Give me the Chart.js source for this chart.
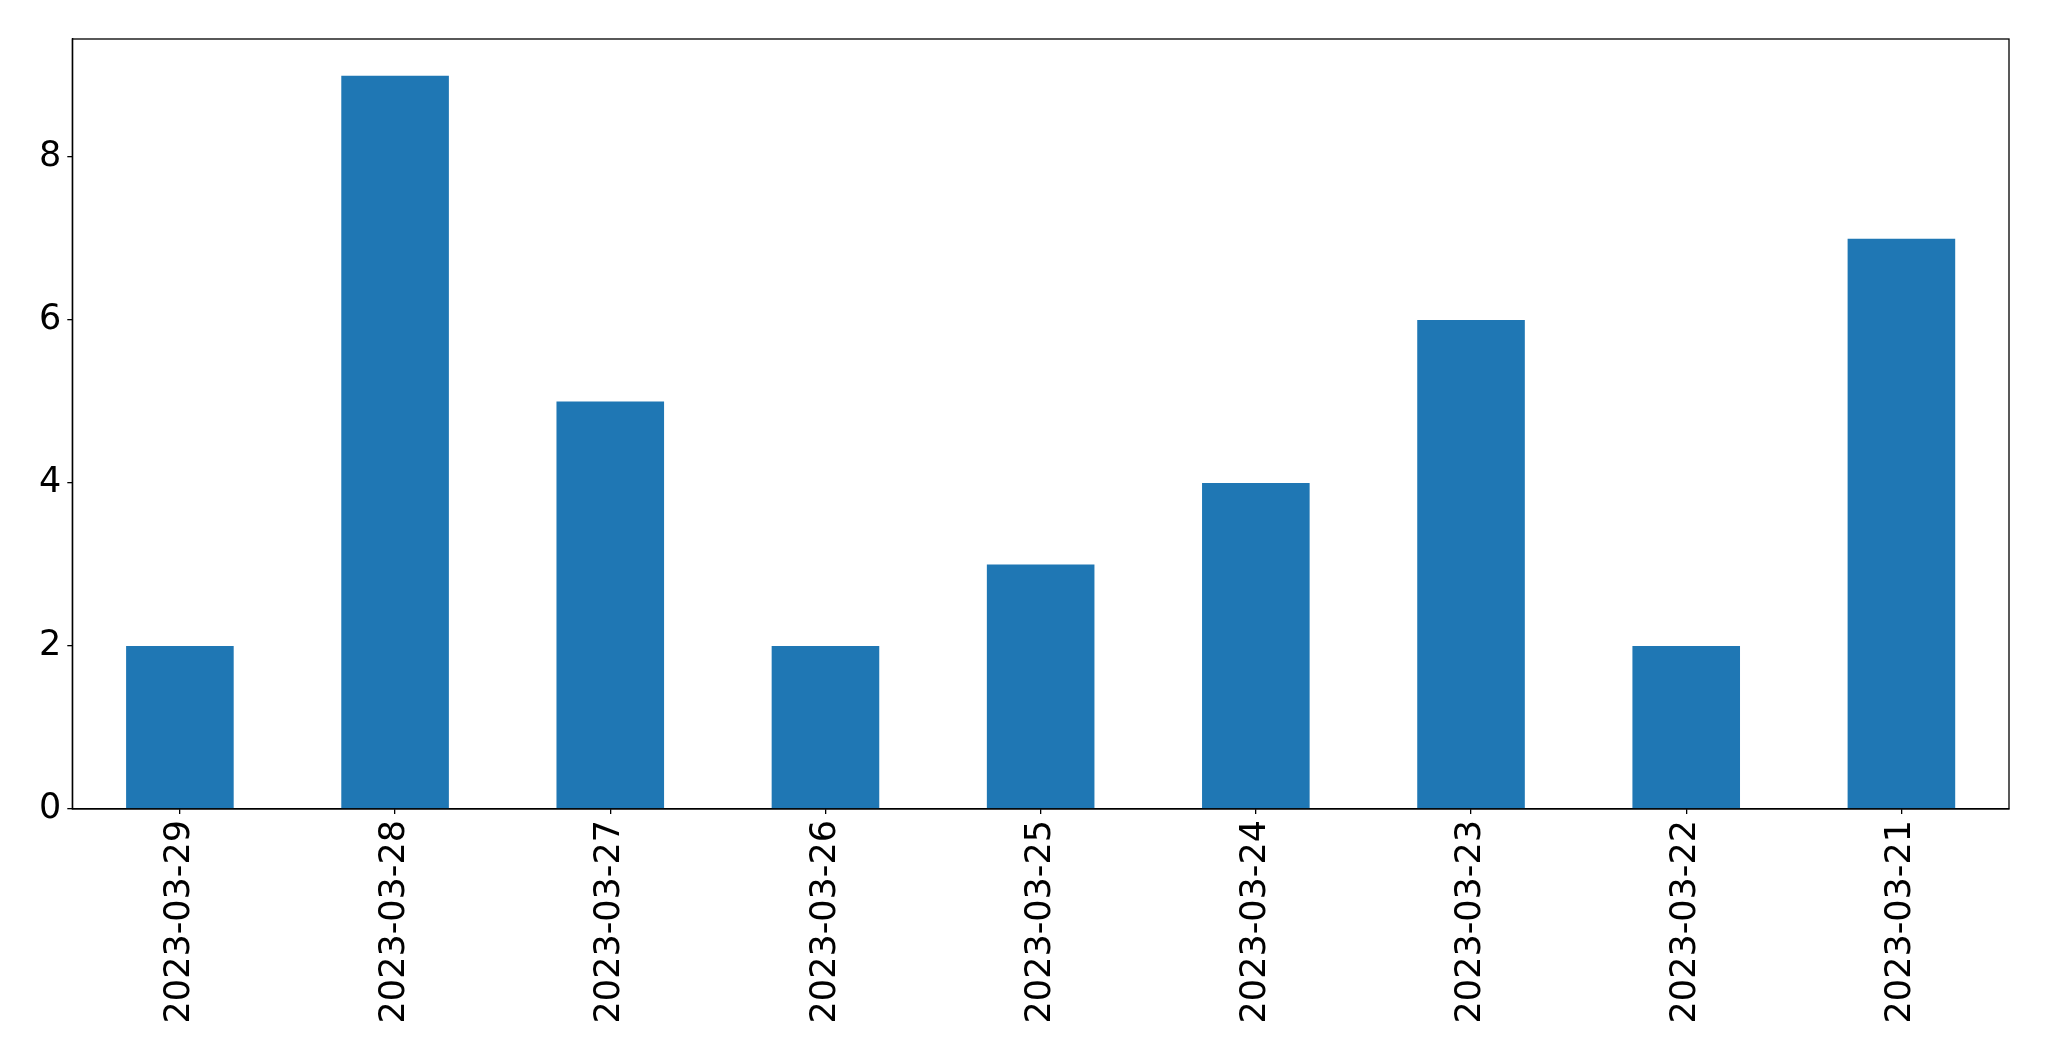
<!DOCTYPE html>
<html>
<head>
<meta charset="utf-8">
<script src="https://cdn.jsdelivr.net/npm/chart.js@4/dist/chart.umd.min.js"></script>
<style>
html,body{margin:0;padding:0;background:#fff;}
#wrap{width:2049px;height:1061px;position:relative;}
</style>
</head>
<body>
<div id="wrap"><canvas id="c" width="2049" height="1061"></canvas></div>
<script>
const categories = ["2023-03-29","2023-03-28","2023-03-27","2023-03-26","2023-03-25","2023-03-24","2023-03-23","2023-03-22","2023-03-21"];
const values = [2, 9, 5, 2, 3, 4, 6, 2, 7];
const yTicks = [0, 2, 4, 6, 8];
const yMax = 9.45;

const frame = {
  id: 'frame',
  afterDatasetsDraw(chart) {
    const a = chart.chartArea, ctx = chart.ctx;
    ctx.save();
    ctx.strokeStyle = '#000';
    ctx.lineWidth = 1.3;
    ctx.strokeRect(a.left, a.top, a.right - a.left, a.bottom - a.top);
    ctx.restore();
  }
};

new Chart(document.getElementById('c'), {
  type: 'bar',
  data: {
    labels: categories,
    datasets: [{
      data: values,
      backgroundColor: '#1f77b4',
      borderWidth: 0,
      barPercentage: 0.5,
      categoryPercentage: 1.0
    }]
  },
  options: {
    responsive: false,
    animation: false,
    devicePixelRatio: 1,
    layout: { padding: { top: 39, right: 40, left: 0, bottom: 0 } },
    plugins: { legend: { display: false }, tooltip: { enabled: false } },
    scales: {
      x: {
        offset: true,
        afterFit(s) { s.height = 252; },
        grid: { offset: false, drawOnChartArea: false, drawTicks: true, tickLength: 5, color: '#000', lineWidth: 1.3 },
        border: { display: true, color: '#000', width: 1.3 },
        ticks: {
          minRotation: 90, maxRotation: 90, autoSkip: false,
          color: '#000', padding: 6,
          font: { family: 'DejaVu Sans', size: 35 }
        }
      },
      y: {
        min: 0, max: yMax,
        afterFit(s) { s.width = 72.3; },
        afterBuildTicks(s) { s.ticks = yTicks.map(v => ({ value: v })); },
        grid: { drawOnChartArea: false, drawTicks: true, tickLength: 5, color: '#000', lineWidth: 1.3 },
        border: { display: true, color: '#000', width: 1.3 },
        ticks: {
          color: '#000', padding: 6,
          font: { family: 'DejaVu Sans', size: 35 }
        }
      }
    }
  },
  plugins: [frame]
});
</script>
</body>
</html>
